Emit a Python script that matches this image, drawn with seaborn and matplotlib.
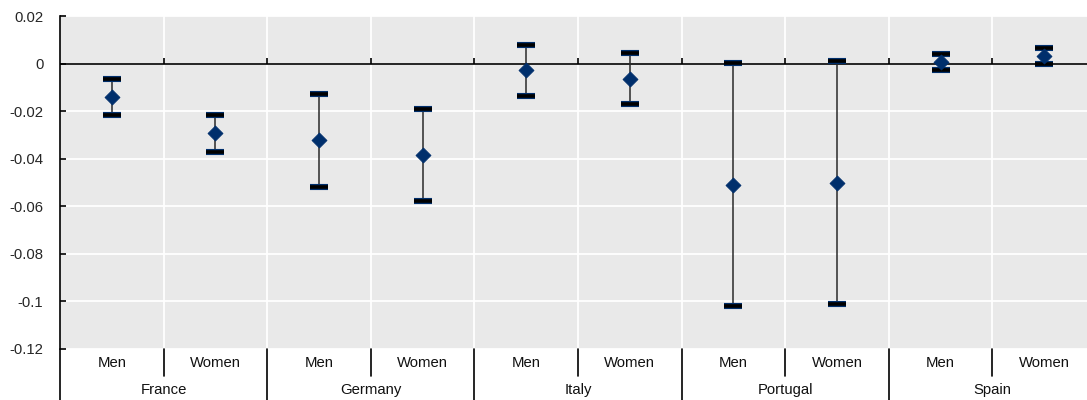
import numpy as np
import pandas as pd
import matplotlib
matplotlib.use("Agg")
import matplotlib.pyplot as plt
from matplotlib.lines import Line2D
from matplotlib.markers import TICKUP
import seaborn as sns

# ---- data ----
countries = ["France", "Germany", "Italy", "Portugal", "Spain"]
sexes = ["Men", "Women"]
estimate = [-0.0140, -0.0293, -0.0323, -0.0383, -0.0029, -0.0065, -0.0510, -0.0500, 0.0005, 0.0031]
lower = [-0.0217, -0.0372, -0.0517, -0.0576, -0.0136, -0.0172, -0.1020, -0.1012, -0.0028, -0.0002]
upper = [-0.0065, -0.0217, -0.0130, -0.0189, 0.0080, 0.0043, 0.0003, 0.0011, 0.0042, 0.0064]
yticks = [0.02, 0.0, -0.02, -0.04, -0.06, -0.08, -0.10, -0.12]
ytick_labels = ["0.02", "0", "-0.02", "-0.04", "-0.06", "-0.08", "-0.1", "-0.12"]

rows = []
for c in countries:
    for s in sexes:
        rows.append({"country": c, "sex": s, "group": f"{c}|{s}"})
df = pd.DataFrame(rows)
df["estimate"] = estimate
df["lower"] = lower
df["upper"] = upper

sns.set_theme(style="white")
plt.rcParams["font.family"] = ["Liberation Sans", "DejaVu Sans"]

navy = "#002F6C"
fig = plt.figure(figsize=(10.87, 4.0), dpi=100)
ax = fig.add_axes([60 / 1087, 51 / 400, 1036 / 1087, 333 / 400])
ax.set_facecolor("#E9E9E9")

n = len(df)
xpos = np.arange(n)
est = df["estimate"].to_numpy()
yerr = [est - df["lower"].to_numpy(), df["upper"].to_numpy() - est]

# whisker lines
ax.errorbar(xpos, est, yerr=yerr, fmt="none", ecolor="#2a2a2a", elinewidth=1.1,
            capsize=0, zorder=3)
# caps: navy outline then black core
ax.errorbar(xpos, est, yerr=yerr, fmt="none", ecolor=navy, elinewidth=0,
            capsize=6.8, capthick=4.4, zorder=3.5)
ax.errorbar(xpos, est, yerr=yerr, fmt="none", ecolor="black", elinewidth=0,
            capsize=6.2, capthick=2.6, zorder=3.6)

sns.scatterplot(data=df, x="group", y="estimate", marker="D", s=58, color=navy,
                edgecolor=navy, linewidth=0.6, zorder=5, ax=ax, legend=False)

ax.set_xlim(-0.5, n - 0.5)
ax.set_ylim(-0.12, 0.02)

# zero line
ax.axhline(0, color="black", lw=1.2, zorder=2)

# grid
ax.set_yticks(yticks)
ax.set_yticklabels(ytick_labels)
bounds = np.arange(n - 1) + 0.5
ax.set_xticks(xpos)
ax.set_xticklabels([""] * n)
ax.set_xticks(bounds, minor=True)
ax.grid(False)
ax.yaxis.grid(True, color="white", lw=1.3, zorder=1)
ax.xaxis.grid(True, which="minor", color="white", lw=1.3, zorder=1)
ax.set_axisbelow(True)

# small ticks on the zero line
ax.plot(bounds, np.zeros_like(bounds), linestyle="none", marker=TICKUP,
        markersize=4, markeredgewidth=1.2, color="black", zorder=2.5)

for sp in ["top", "right", "bottom"]:
    ax.spines[sp].set_visible(False)
ax.spines["left"].set_color("black")
ax.spines["left"].set_linewidth(1.2)

ax.tick_params(axis="y", direction="in", length=4, width=1.2, color="black",
               labelsize=10.7, pad=12, left=True)
ax.tick_params(axis="x", which="both", length=0, bottom=False)
ax.set_xlabel("")
ax.set_ylabel("")

# category labels below
tr = ax.get_xaxis_transform()
for i, r in df.iterrows():
    ax.text(i, -0.042, r["sex"], transform=tr, ha="center", va="center",
            fontsize=10.7, color="#111111")
for j, c in enumerate(countries):
    ax.text(2 * j + 0.5, -0.123, c, transform=tr, ha="center", va="center",
            fontsize=10.7, color="#111111")

# separators below the axis
for k, b in enumerate(bounds):
    low = -0.153 if (k + 1) % 2 == 0 else -0.081
    ax.add_line(Line2D([b, b], [0, low], transform=tr, color="black", lw=1.2,
                       clip_on=False))
ax.add_line(Line2D([-0.5, -0.5], [0, -0.153], transform=tr, color="black", lw=1.2,
                   clip_on=False))

fig.savefig("out.png", dpi=100)
